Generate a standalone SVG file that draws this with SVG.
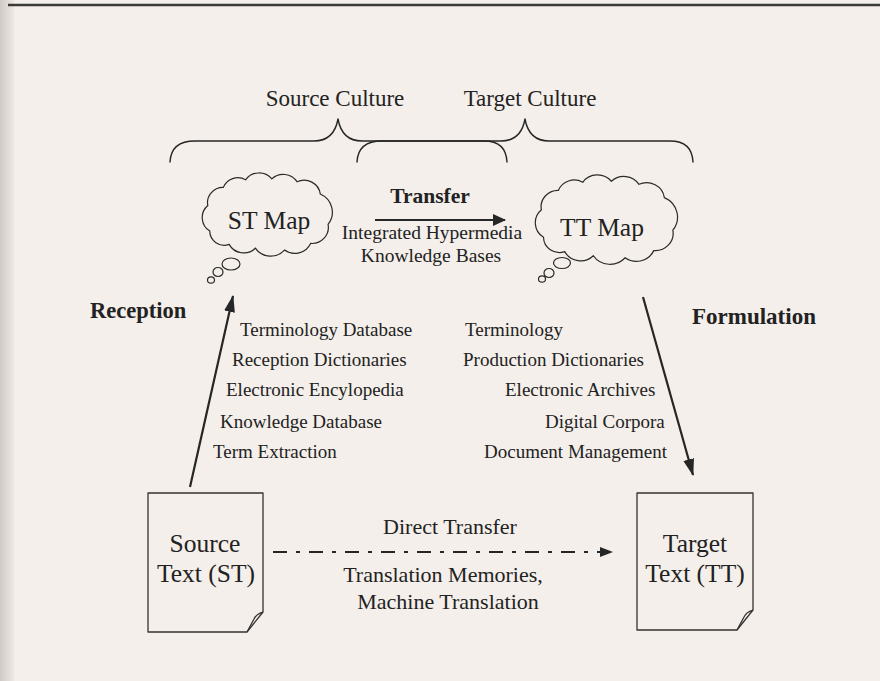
<svg xmlns="http://www.w3.org/2000/svg" width="880" height="681" viewBox="0 0 880 681">
  <defs>
    <style>
      .t { font-family: "Liberation Serif", "Times New Roman", serif; fill: #222; }
      .b { font-weight: bold; }
      .ln { fill: none; stroke: #262626; stroke-width: 1.4; stroke-linecap: round; stroke-linejoin: round; }
      .arr { fill: none; stroke: #262626; stroke-width: 2.2; }
      .cloud { fill: none; stroke: #2a2a2a; stroke-width: 1.2; vector-effect: non-scaling-stroke; }
      .doc { fill: none; stroke: #333; stroke-width: 1.3; stroke-linejoin: round; }
      .list { font-size: 19px; }
    </style>
    <marker id="head" viewBox="0 0 17 11" refX="16" refY="5.5" markerWidth="17" markerHeight="11" orient="auto" markerUnits="userSpaceOnUse">
      <path d="M0,0 L17,5.5 L0,11 Z" fill="#262626"/>
    </marker>
    <marker id="headWide" viewBox="0 0 13 12" refX="12" refY="6" markerWidth="13" markerHeight="12" orient="auto" markerUnits="userSpaceOnUse">
      <path d="M0,0 L13,6 L0,12 Z" fill="#262626"/>
    </marker>
    <!-- cloud outline centred on the origin -->
    <path id="cloudShape" class="cloud" d="M-60,-9 A16,16 0 0 1 -44,-28 A16,16 0 0 1 -21,-36 A17,17 0 0 1 6,-37 A17,17 0 0 1 32,-34 A17,17 0 0 1 56,-21 A21,21 0 0 1 64,11 A17,17 0 0 1 46,31 A18,18 0 0 1 19,38 A19,19 0 0 1 -11,36 A17,17 0 0 1 -38,32 A15,15 0 0 1 -58,18 A17,17 0 0 1 -60,-9 Z"/>
    <linearGradient id="edge" x1="0" y1="0" x2="1" y2="0">
      <stop offset="0" stop-color="#cfcac6"/>
      <stop offset="1" stop-color="#efe9e4"/>
    </linearGradient>
  </defs>

  <!-- page -->
  <rect x="0" y="0" width="880" height="681" fill="#f4efea"/>
  <rect x="0" y="0" width="14" height="681" fill="url(#edge)"/>
  <line x1="8" y1="5" x2="880" y2="5" stroke="#3a3a3a" stroke-width="2.5"/>

  <!-- culture braces -->
  <g id="source-culture">
    <path class="ln" d="M170,162 Q171,141 195,141 H314 Q334,141 338,119 Q342,141 362,141 H484 Q506,141 507,162"/>
    <text class="t" x="335" y="106" font-size="23" text-anchor="middle">Source Culture</text>
  </g>
  <g id="target-culture">
    <path class="ln" d="M357,162 Q358,141 382,141 H501 Q521,141 525,119 Q529,141 549,141 H670 Q692,141 693,162"/>
    <text class="t" x="530" y="106" font-size="23" text-anchor="middle">Target Culture</text>
  </g>

  <!-- thought clouds -->
  <g id="st-map">
    <use href="#cloudShape" transform="translate(266,214) scale(0.97,0.95)"/>
    <ellipse class="cloud" cx="231" cy="264" rx="9" ry="6"/>
    <ellipse class="cloud" cx="218" cy="272" rx="5" ry="4.5"/>
    <ellipse class="cloud" cx="211" cy="280" rx="3.5" ry="3.2"/>
    <text class="t" x="269" y="229" font-size="25.5" text-anchor="middle">ST Map</text>
  </g>
  <g id="tt-map">
    <use href="#cloudShape" transform="translate(605,219) scale(1.06,1.02)"/>
    <ellipse class="cloud" cx="562" cy="263" rx="8.5" ry="5.5"/>
    <ellipse class="cloud" cx="549" cy="273" rx="5" ry="4.5"/>
    <ellipse class="cloud" cx="542" cy="279" rx="3.5" ry="3.2"/>
    <text class="t" x="602" y="236" font-size="25.5" text-anchor="middle">TT Map</text>
  </g>

  <!-- text documents -->
  <g id="source-text">
    <path class="doc" d="M148,493 H263 V612 L247,632 H148 Z"/>
    <path class="doc" d="M263,612 Q256,614 254,619 L247,632"/>
    <text class="t" x="205" y="552" font-size="25.5" text-anchor="middle">Source</text>
    <text class="t" x="206" y="582" font-size="25.5" text-anchor="middle">Text (ST)</text>
  </g>
  <g id="target-text">
    <path class="doc" d="M637,493 H753 V610 L737,630 H637 Z"/>
    <path class="doc" d="M753,610 Q746,612 744,617 L737,630"/>
    <text class="t" x="695" y="552" font-size="25.5" text-anchor="middle">Target</text>
    <text class="t" x="695" y="582" font-size="25.5" text-anchor="middle">Text (TT)</text>
  </g>

  <!-- connectors -->
  <g id="connectors">
    <line class="arr" x1="375" y1="220" x2="505" y2="220" stroke-width="2.6" marker-end="url(#headWide)"/>
    <line class="arr" x1="190" y1="487" x2="233" y2="296" marker-end="url(#head)"/>
    <line class="arr" x1="643" y1="297" x2="693" y2="475" marker-end="url(#head)"/>
    <line class="arr" x1="273" y1="552" x2="601" y2="552" stroke-width="3.5" stroke-dasharray="14 9 4 9"/>
    <path d="M600,547 L613,552 L600,557 Z" fill="#262626"/>
  </g>

  <!-- labels -->
  <g id="labels">
    <text class="t b" x="430" y="203" font-size="21.5" text-anchor="middle">Transfer</text>
    <text class="t" x="432" y="239" font-size="19.5" text-anchor="middle">Integrated Hypermedia</text>
    <text class="t" x="431" y="262" font-size="19.5" text-anchor="middle">Knowledge Bases</text>
    <text class="t b" x="90" y="318" font-size="22.5">Reception</text>
    <text class="t b" x="692" y="324" font-size="23">Formulation</text>

    <text class="t list" x="240" y="336">Terminology Database</text>
    <text class="t list" x="232" y="366">Reception Dictionaries</text>
    <text class="t list" x="226" y="396">Electronic Encylopedia</text>
    <text class="t list" x="220" y="428">Knowledge Database</text>
    <text class="t list" x="213" y="458">Term Extraction</text>

    <text class="t list" x="465" y="336">Terminology</text>
    <text class="t list" x="463" y="366">Production Dictionaries</text>
    <text class="t list" x="505" y="396">Electronic Archives</text>
    <text class="t list" x="545" y="428">Digital Corpora</text>
    <text class="t list" x="484" y="458">Document Management</text>

    <text class="t" x="450" y="534" font-size="22" text-anchor="middle">Direct Transfer</text>
    <text class="t" x="443" y="582" font-size="22" text-anchor="middle">Translation Memories,</text>
    <text class="t" x="448" y="609" font-size="22" text-anchor="middle">Machine Translation</text>
  </g>
</svg>
